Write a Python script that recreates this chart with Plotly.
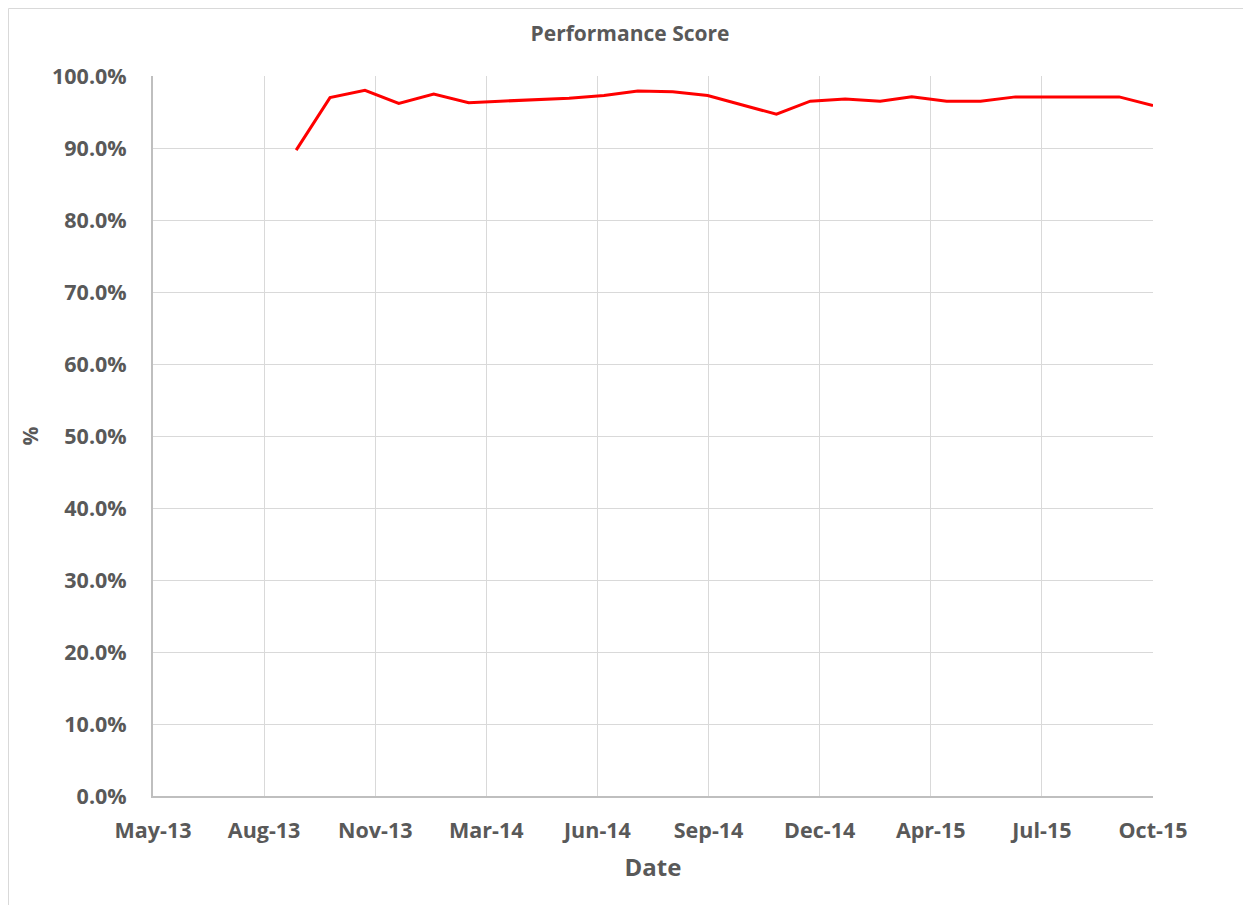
import numpy as np
import pandas as pd
import plotly.graph_objects as go

# Data (monthly performance score, %)
months = pd.date_range("2013-09-01", periods=26, freq="MS") + pd.Timedelta(days=14)
scores = [89.7, 97.0, 98.0, 96.2, 97.5, 96.3, 96.5, 96.7, 96.9, 97.3,
          97.9, 97.8, 97.3, 96.0, 94.7, 96.5, 96.8, 96.5, 97.1, 96.5,
          96.5, 97.1, 97.1, 97.1, 97.1, 95.9]
tick_labels = ["May-13", "Aug-13", "Nov-13", "Mar-14", "Jun-14", "Sep-14",
               "Dec-14", "Apr-15", "Jul-15", "Oct-15"]
y_ticks = [0, 10, 20, 30, 40, 50, 60, 70, 80, 90, 100]

x_start = pd.Timestamp("2013-05-11")
x_end = pd.Timestamp("2015-10-15")
tick_pos = [x_start + (x_end - x_start) * i / (len(tick_labels) - 1) for i in range(len(tick_labels))]

FONT = "'Open Sans', Lato, sans-serif"
GRAY = "#595959"

W, H = 1243, 897
L, T, PW, PH = 145, 68, 1000, 720

fig = go.Figure()
fig.add_trace(go.Scatter(
    x=months, y=[s / 100 for s in scores], mode="lines",
    line=dict(color="#FF0000", width=3), showlegend=False,
))

fig.update_layout(
    width=W, height=H,
    margin=dict(l=L, r=W - L - PW, t=T, b=H - T - PH, autoexpand=False),
    paper_bgcolor="white", plot_bgcolor="white",
    title=dict(text="Performance Score", x=(630 - 8) / W, xref="container", xanchor="center",
               y=1 - 26 / H, yref="container", yanchor="middle",
               font=dict(family=FONT, size=21, color=GRAY, weight="bold")),
    font=dict(family=FONT, color=GRAY),
)
fig.update_xaxes(
    range=[x_start, x_end], tickvals=tick_pos, ticktext=tick_labels,
    tickfont=dict(family=FONT, size=21.5, color=GRAY, weight="bold"),
    showgrid=True, gridcolor="#d9d9d9", gridwidth=1,
    showline=True, linecolor="#bfbfbf", linewidth=2,
    ticks="outside", ticklen=14, tickcolor="rgba(0,0,0,0)",
    title=dict(text="Date", font=dict(family=FONT, size=24, color=GRAY, weight="bold"), standoff=16),
    zeroline=False, automargin=False,
)
fig.update_yaxes(
    range=[0, 1], tickvals=[v / 100 for v in y_ticks], tickformat=".1%",
    tickfont=dict(family=FONT, size=21.5, color=GRAY, weight="bold"),
    showgrid=True, gridcolor="#d9d9d9", gridwidth=1,
    showline=True, linecolor="#bfbfbf", linewidth=2,
    ticks="outside", ticklen=20, tickcolor="rgba(0,0,0,0)",
    title=dict(text="%", font=dict(family=FONT, size=21, color=GRAY, weight="bold"), standoff=8),
    zeroline=False, automargin=False,
)
# chart-area border (left and top edges visible)
bx = -(L - 0.5) / PW
by = 1 + (T - 0.5) / PH
fig.add_shape(type="line", xref="paper", yref="paper", x0=bx, x1=(W - L) / PW, y0=by, y1=by,
              line=dict(color="#d9d9d9", width=1))
fig.add_shape(type="line", xref="paper", yref="paper", x0=bx, x1=bx, y0=-(H - T - PH) / PH, y1=by,
              line=dict(color="#d9d9d9", width=1))

fig.write_html("out.html")
